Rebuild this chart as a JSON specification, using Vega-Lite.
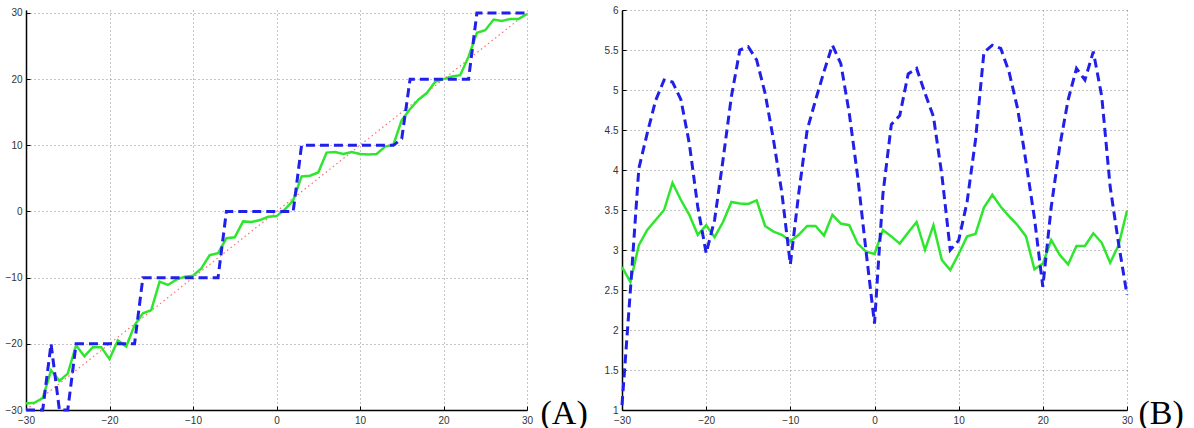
{
  "$schema": "https://vega.github.io/schema/vega-lite/v6.json",
  "padding": {"left": 5, "top": 5, "right": 5, "bottom": 5},
  "bounds": "flush",
  "spacing": 95,
  "background": "white",
  "datasets": {
    "A_green": [
      {"x":-30,"y":-29.0},{"x":-29,"y":-28.9},{"x":-28,"y":-28.2},{"x":-27,"y":-24.0},{"x":-26,"y":-25.6},
      {"x":-25,"y":-24.5},{"x":-24,"y":-20.2},{"x":-23,"y":-21.9},{"x":-22,"y":-20.5},{"x":-21,"y":-20.5},
      {"x":-20,"y":-22.3},{"x":-19,"y":-19.5},{"x":-18,"y":-20.4},{"x":-17,"y":-17.2},{"x":-16,"y":-15.4},
      {"x":-15,"y":-14.9},{"x":-14,"y":-10.6},{"x":-13,"y":-11.1},{"x":-12,"y":-10.3},{"x":-11,"y":-9.85},
      {"x":-10,"y":-9.7},{"x":-9,"y":-8.6},{"x":-8,"y":-6.6},{"x":-7,"y":-6.3},{"x":-6,"y":-4.05},
      {"x":-5,"y":-3.9},{"x":-4,"y":-1.5},{"x":-3,"y":-1.6},{"x":-2,"y":-1.3},{"x":-1,"y":-0.8},
      {"x":0,"y":-0.7},{"x":1,"y":0.3},{"x":2,"y":1.7},{"x":3,"y":5.3},{"x":4,"y":5.4},
      {"x":5,"y":5.9},{"x":6,"y":8.9},{"x":7,"y":9.0},{"x":8,"y":8.7},{"x":9,"y":9.0},
      {"x":10,"y":8.7},{"x":11,"y":8.6},{"x":12,"y":8.7},{"x":13,"y":9.8},{"x":14,"y":10.1},
      {"x":15,"y":13.8},{"x":16,"y":15.5},{"x":17,"y":16.9},{"x":18,"y":17.9},{"x":19,"y":19.6},
      {"x":20,"y":20.0},{"x":21,"y":20.4},{"x":22,"y":20.6},{"x":23,"y":23.4},{"x":24,"y":27.0},
      {"x":25,"y":27.4},{"x":26,"y":29.0},{"x":27,"y":28.8},{"x":28,"y":29.1},{"x":29,"y":29.1},
      {"x":30,"y":29.85}
    ],
    "A_blue": [
      {"x":-30,"y":-30},{"x":-29,"y":-30},{"x":-28,"y":-30},{"x":-27,"y":-20},{"x":-26,"y":-30},
      {"x":-25,"y":-30},{"x":-24,"y":-20},{"x":-23,"y":-20},{"x":-22,"y":-20},{"x":-21,"y":-20},
      {"x":-20,"y":-20},{"x":-19,"y":-20},{"x":-18,"y":-20},{"x":-17,"y":-20},{"x":-16,"y":-10},
      {"x":-15,"y":-10},{"x":-14,"y":-10},{"x":-13,"y":-10},{"x":-12,"y":-10},{"x":-11,"y":-10},
      {"x":-10,"y":-10},{"x":-9,"y":-10},{"x":-8,"y":-10},{"x":-7,"y":-10},{"x":-6,"y":0},
      {"x":-5,"y":0},{"x":-4,"y":0},{"x":-3,"y":0},{"x":-2,"y":0},{"x":-1,"y":0},
      {"x":0,"y":0},{"x":1,"y":0},{"x":2,"y":0},{"x":3,"y":10},{"x":4,"y":10},
      {"x":5,"y":10},{"x":6,"y":10},{"x":7,"y":10},{"x":8,"y":10},{"x":9,"y":10},
      {"x":10,"y":10},{"x":11,"y":10},{"x":12,"y":10},{"x":13,"y":10},{"x":14,"y":10},
      {"x":15,"y":11},{"x":16,"y":20},{"x":17,"y":20},{"x":18,"y":20},{"x":19,"y":20},
      {"x":20,"y":20},{"x":21,"y":20},{"x":22,"y":20},{"x":23,"y":20},{"x":24,"y":30},
      {"x":25,"y":30},{"x":26,"y":30},{"x":27,"y":30},{"x":28,"y":30},{"x":29,"y":30},
      {"x":30,"y":30}
    ],
    "A_red": [
      {"x":-30,"y":-30},{"x":30,"y":30}
    ],
    "B_green": [
      {"x":-30,"y":2.79},{"x":-29,"y":2.6},{"x":-28,"y":3.06},{"x":-27,"y":3.25},{"x":-26,"y":3.375},
      {"x":-25,"y":3.5},{"x":-24,"y":3.84},{"x":-23,"y":3.625},{"x":-22,"y":3.44},{"x":-21,"y":3.19},
      {"x":-20,"y":3.31},{"x":-19,"y":3.16},{"x":-18,"y":3.35},{"x":-17,"y":3.6},{"x":-16,"y":3.58},
      {"x":-15,"y":3.575},{"x":-14,"y":3.62},{"x":-13,"y":3.3},{"x":-12,"y":3.23},{"x":-11,"y":3.19},
      {"x":-10,"y":3.11},{"x":-9,"y":3.19},{"x":-8,"y":3.3},{"x":-7,"y":3.3},{"x":-6,"y":3.18},
      {"x":-5,"y":3.44},{"x":-4,"y":3.33},{"x":-3,"y":3.31},{"x":-2,"y":3.08},{"x":-1,"y":2.98},
      {"x":0,"y":2.95},{"x":1,"y":3.25},{"x":2,"y":3.17},{"x":3,"y":3.08},{"x":4,"y":3.22},
      {"x":5,"y":3.35},{"x":6,"y":3.0},{"x":7,"y":3.31},{"x":8,"y":2.875},{"x":9,"y":2.75},
      {"x":10,"y":2.95},{"x":11,"y":3.17},{"x":12,"y":3.2},{"x":13,"y":3.53},{"x":14,"y":3.69},
      {"x":15,"y":3.54},{"x":16,"y":3.42},{"x":17,"y":3.31},{"x":18,"y":3.17},{"x":19,"y":2.76},
      {"x":20,"y":2.83},{"x":21,"y":3.125},{"x":22,"y":2.94},{"x":23,"y":2.82},{"x":24,"y":3.05},
      {"x":25,"y":3.05},{"x":26,"y":3.21},{"x":27,"y":3.09},{"x":28,"y":2.84},{"x":29,"y":3.06},
      {"x":30,"y":3.49}
    ],
    "B_blue": [
      {"x":-30,"y":1.06},{"x":-29,"y":2.5},{"x":-28,"y":4.02},{"x":-27,"y":4.46},{"x":-26,"y":4.87},
      {"x":-25,"y":5.125},{"x":-24,"y":5.1},{"x":-23,"y":4.88},{"x":-22,"y":4.33},{"x":-21,"y":3.54},
      {"x":-20,"y":2.96},{"x":-19,"y":3.375},{"x":-18,"y":4.125},{"x":-17,"y":4.92},{"x":-16,"y":5.5},
      {"x":-15,"y":5.54},{"x":-14,"y":5.375},{"x":-13,"y":4.96},{"x":-12,"y":4.375},{"x":-11,"y":3.71},
      {"x":-10,"y":2.82},{"x":-9,"y":3.71},{"x":-8,"y":4.5},{"x":-7,"y":4.875},{"x":-6,"y":5.23},
      {"x":-5,"y":5.56},{"x":-4,"y":5.33},{"x":-3,"y":4.71},{"x":-2,"y":3.92},{"x":-1,"y":2.98},
      {"x":0,"y":2.08},{"x":1,"y":3.7},{"x":2,"y":4.57},{"x":3,"y":4.68},{"x":4,"y":5.2},
      {"x":5,"y":5.27},{"x":6,"y":4.96},{"x":7,"y":4.67},{"x":8,"y":3.94},{"x":9,"y":3.0},
      {"x":10,"y":3.12},{"x":11,"y":3.6},{"x":12,"y":4.375},{"x":13,"y":5.47},{"x":14,"y":5.56},
      {"x":15,"y":5.52},{"x":16,"y":5.22},{"x":17,"y":4.77},{"x":18,"y":4.1},{"x":19,"y":3.4},
      {"x":20,"y":2.54},{"x":21,"y":3.54},{"x":22,"y":4.29},{"x":23,"y":4.875},{"x":24,"y":5.27},
      {"x":25,"y":5.125},{"x":26,"y":5.48},{"x":27,"y":4.92},{"x":28,"y":3.79},{"x":29,"y":3.08},
      {"x":30,"y":2.44}
    ]
  },
  "config": {
    "view": {"stroke": null},
    "axis": {
      "grid": true,
      "gridColor": "#8a8a8a",
      "gridDash": [1, 3],
      "gridWidth": 1,
      "domainColor": "#000000",
      "domainWidth": 1.5,
      "tickColor": "#000000",
      "tickSize": -4,
      "tickWidth": 1,
      "labelFont": "Liberation Sans",
      "labelFontSize": 10,
      "labelColor": "#333333",
      "labelFlush": false,
      "labelOverlap": false
    },
    "line": {"strokeWidth": 2.5}
  },
  "hconcat": [
    {
      "width": 501,
      "height": 400,
      "encoding": {
        "x": {
          "field": "x", "type": "quantitative",
          "scale": {"domain": [-30, 30], "nice": false, "zero": false},
          "axis": {
            "values": [-30, -20, -10, 0, 10, 20, 30],
            "labelPadding": 9,
            "title": "(A)",
            "titleX": 514, "titleY": 13,
            "titleAlign": "left", "titleBaseline": "alphabetic",
            "titleFont": "Liberation Serif", "titleFontSize": 34,
            "titleFontWeight": "normal", "titleColor": "#000000"
          }
        },
        "y": {
          "field": "y", "type": "quantitative",
          "scale": {"domain": [-30, 30.45], "nice": false, "zero": false},
          "axis": {"values": [-30, -20, -10, 0, 10, 20, 30], "title": null, "labelPadding": 8}
        }
      },
      "layer": [
        {"data": {"name": "A_red"}, "mark": {"type": "line", "color": "#ff6f6f", "strokeWidth": 1.2, "strokeDash": [1.5, 3]}},
        {"data": {"name": "A_green"}, "mark": {"type": "line", "color": "#2fe62f", "strokeWidth": 2.5}},
        {"data": {"name": "A_blue"}, "mark": {"type": "line", "color": "#2020e8", "strokeWidth": 3, "strokeDash": [9, 5]}}
      ]
    },
    {
      "width": 505,
      "height": 400,
      "encoding": {
        "x": {
          "field": "x", "type": "quantitative",
          "scale": {"domain": [-30, 30], "nice": false, "zero": false},
          "axis": {
            "values": [-30, -20, -10, 0, 10, 20, 30],
            "labelPadding": 9,
            "title": "(B)",
            "titleX": 516, "titleY": 13,
            "titleAlign": "left", "titleBaseline": "alphabetic",
            "titleFont": "Liberation Serif", "titleFontSize": 34,
            "titleFontWeight": "normal", "titleColor": "#000000"
          }
        },
        "y": {
          "field": "y", "type": "quantitative",
          "scale": {"domain": [1, 6], "nice": false, "zero": false},
          "axis": {"values": [1, 1.5, 2, 2.5, 3, 3.5, 4, 4.5, 5, 5.5, 6], "format": "~g", "title": null, "labelPadding": 8}
        }
      },
      "layer": [
        {"data": {"name": "B_green"}, "mark": {"type": "line", "color": "#2fe62f", "strokeWidth": 2.5}},
        {"data": {"name": "B_blue"}, "mark": {"type": "line", "color": "#2020e8", "strokeWidth": 3, "strokeDash": [9, 5]}}
      ]
    }
  ]
}
